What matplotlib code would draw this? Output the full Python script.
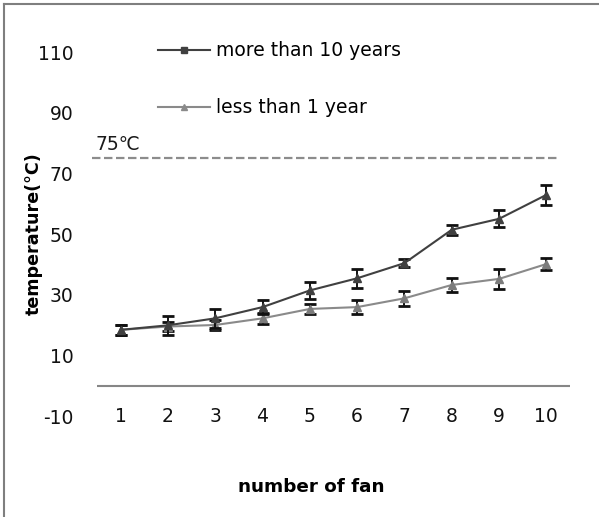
import matplotlib.pyplot as plt
from matplotlib.lines import Line2D

plt.rcParams['font.family'] = ['DejaVu Sans']
plt.rcParams['axes.unicode_minus'] = False

fans = [1, 2, 3, 4, 5, 6, 7, 8, 9, 10]
old_temp = [18.4, 19.9, 22.2, 25.9, 31.4, 35.4, 40.4, 51.4, 55.0, 62.9]
old_err = [1.7, 3.1, 3.1, 2.4, 2.8, 3.1, 1.4, 1.7, 2.8, 3.3]
new_temp = [18.4, 19.5, 20.0, 22.2, 25.3, 25.9, 28.8, 33.2, 35.2, 40.1]
new_err = [1.7, 1.5, 1.5, 1.9, 1.7, 2.4, 2.4, 2.2, 3.3, 2.0]
limit = 75
yticks = [-10, 10, 30, 50, 70, 90, 110]

W, H = 599, 517
fig = plt.figure(figsize=(W / 100, H / 100), dpi=100)
ax = fig.add_axes([97 / W, 1 - 416 / H, 473 / W, 364 / H])

dark = '#404040'
light = '#8a8a8a'

ax.errorbar(fans, old_temp, yerr=old_err, color=dark, ecolor='#111111',
            elinewidth=1.4, capsize=4.5, capthick=2, marker='^',
            markersize=6, lw=1.5, zorder=4)
ax.errorbar(fans, new_temp, yerr=new_err, color=light, ecolor='#111111',
            elinewidth=1.4, capsize=4.5, capthick=2, marker='^',
            markersize=6, mfc='#7c7c7c', mec='#7c7c7c', lw=1.5, zorder=3)

# zero line and the 75 degree limit
ax.axhline(0, color='#868686', lw=1.5)
ax.plot([-0.011, 0.973], [limit, limit], transform=ax.get_yaxis_transform(),
        ls=(0, (3.8, 1.6)), color='#8c8c8c', lw=1.6, clip_on=False)
ax.annotate('75\u2103', xy=(-0.004, limit), xycoords=ax.get_yaxis_transform(),
            xytext=(0, 10), textcoords='offset points', fontsize=13.5,
            va='center', ha='left', color='#1a1a1a')

ax.set_xlim(0.5, 10.5)
ax.set_ylim(-10, 110)
ax.set_xticks(fans)
ax.set_yticks(yticks)
for s in ax.spines.values():
    s.set_visible(False)
ax.tick_params(axis='both', length=0, labelsize=13.5, colors='#111111')
ax.tick_params(axis='y', pad=17)
ax.tick_params(axis='x', pad=0)
for lab in ax.get_xticklabels():
    lab.set_verticalalignment('center')

ax.set_xlabel('number of fan', fontsize=13.2, fontweight='bold')
ax.xaxis.set_label_coords(0.452, -0.170)
ax.set_ylabel('temperature(\u00b0C)', fontsize=12.6, fontweight='bold')
ax.yaxis.set_label_coords(-0.114, 0.5)

handles = [
    Line2D([], [], color=dark, lw=1.5, marker='s', markersize=4),
    Line2D([], [], color=light, lw=1.5, marker='^', markersize=4),
]
ax.legend(handles, ['more than 10 years', 'less than 1 year'],
          loc='upper left', bbox_to_anchor=(0.129, 1.03), frameon=False,
          fontsize=13.5, handlelength=2.77, handletextpad=0.32,
          labelspacing=2.03, borderpad=0, borderaxespad=0)

# page border on the top and left edges
fig.add_artist(Line2D([4 / W, 4 / W], [0, 1 - 4 / H], color='#7f7f7f', lw=1.5))
fig.add_artist(Line2D([4 / W, 1], [1 - 4 / H, 1 - 4 / H], color='#7f7f7f', lw=1.5))

fig.savefig('out.png', dpi=100)
